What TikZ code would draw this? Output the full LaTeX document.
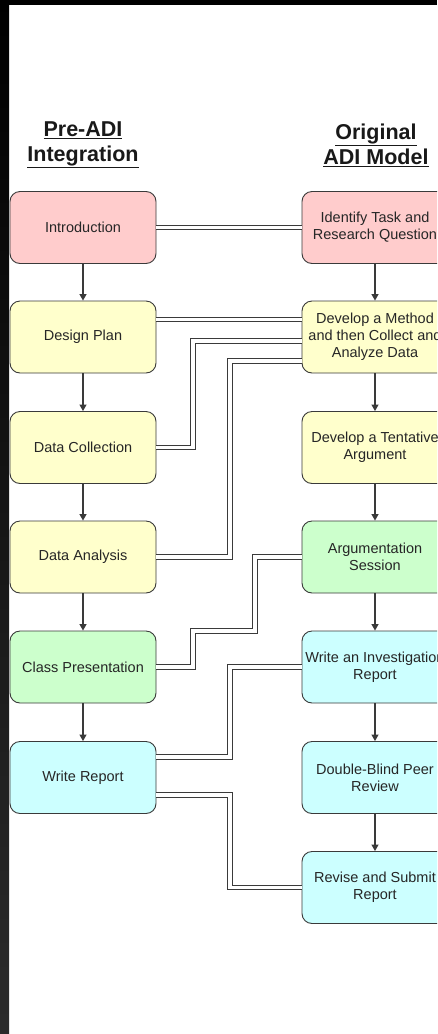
\documentclass[tikz,border=0pt]{standalone}
\usepackage{fontspec}
\setmainfont{Liberation Sans}
\usetikzlibrary{arrows.meta}
\definecolor{introred}{HTML}{FFCCCC}
\definecolor{planyellow}{HTML}{FFFFCC}
\definecolor{talkgreen}{HTML}{CCFFCC}
\definecolor{reportcyan}{HTML}{CCFFFF}
\definecolor{boxline}{HTML}{3A3A3A}

\begin{document}
\begin{tikzpicture}[x=1pt, y=-1pt, font=\fontsize{14.5}{17}\selectfont]
    \useasboundingbox (0,0) rectangle (437,1034);
    \clip (0,0) rectangle (437,1034);
    \fill[white] (0,0) rectangle (437,1034);
    \shade[top color=black, bottom color=black!83!white] (0,0) rectangle (9,1034);
    \fill[black] (0,0) rectangle (437,5);
    \tikzstyle{StageStyle}=[draw=boxline, line width=0.9pt, rounded corners=10pt,
        minimum width=146pt, minimum height=72pt, align=center, text=black!85]
    \tikzstyle{HeadStyle}=[font=\bfseries\fontsize{21.5}{25}\selectfont, align=center, text=black!90]
    \tikzstyle{EdgeStyle}=[draw=boxline, line width=1.1pt, -{Triangle[width=7pt,length=6.5pt]}]
    \tikzstyle{LinkStyle}=[draw=boxline, line width=1pt, double=white, double distance=3.6pt]
    % headings
    \node[HeadStyle] (prehead) at (83,145) {\underline{Pre-ADI}\\\underline{Integration}};
    \node[HeadStyle] (adihead) at (376,145) {\underline{Original}\\\underline{ADI Model}};
    % pre-ADI column
    \node[StageStyle, fill=introred]   (intro)   at (83,227.5) {Introduction};
    \node[StageStyle, fill=planyellow] (plan)    at (83,337)   {Design Plan};
    \node[StageStyle, fill=planyellow] (collect) at (83,447.5) {Data Collection};
    \node[StageStyle, fill=planyellow] (analyze) at (83,557)   {Data Analysis};
    \node[StageStyle, fill=talkgreen]  (present) at (83,667)   {Class Presentation};
    \node[StageStyle, fill=reportcyan] (write)   at (83,777.5) {Write Report};
    % original ADI column
    \node[StageStyle, fill=introred]   (task)    at (375,227.5) {Identify Task and\\Research Question};
    \node[StageStyle, fill=planyellow] (method)  at (375,337)   {Develop a Method\\and then Collect and\\Analyze Data};
    \node[StageStyle, fill=planyellow] (tentative) at (375,447.5) {Develop a Tentative\\Argument};
    \node[StageStyle, fill=talkgreen]  (argue)   at (375,557)   {Argumentation\\Session};
    \node[StageStyle, fill=reportcyan] (report)  at (375,667)   {Write an Investigation\\Report};
    \node[StageStyle, fill=reportcyan] (review)  at (375,777.5) {Double-Blind Peer\\Review};
    \node[StageStyle, fill=reportcyan] (revise)  at (375,887.5) {Revise and Submit\\Report};
    % sequence arrows
    \draw[EdgeStyle] (intro) -- (plan);
    \draw[EdgeStyle] (plan) -- (collect);
    \draw[EdgeStyle] (collect) -- (analyze);
    \draw[EdgeStyle] (analyze) -- (present);
    \draw[EdgeStyle] (present) -- (write);
    \draw[EdgeStyle] (task) -- (method);
    \draw[EdgeStyle] (method) -- (tentative);
    \draw[EdgeStyle] (tentative) -- (argue);
    \draw[EdgeStyle] (argue) -- (report);
    \draw[EdgeStyle] (report) -- (review);
    \draw[EdgeStyle] (review) -- (revise);
    % links between the two models
    \draw[LinkStyle] (intro.east) -- (task.west);
    \draw[LinkStyle] ([yshift=17.5pt]plan.east) -- ([yshift=17.5pt]method.west);
    \draw[LinkStyle] (collect.east) -- ++(36.5,0) |- ([yshift=-4pt]method.west);
    \draw[LinkStyle] (analyze.east) -- ++(73.5,0) |- ([yshift=-24pt]method.west);
    \draw[LinkStyle] (present.east) -- ++(36.5,0) -- ++(0,-36) -- ++(62,0) |- (argue.west);
    \draw[LinkStyle] ([yshift=20.5pt]write.east) -- ++(73.5,0) |- (report.west);
    \draw[LinkStyle] ([yshift=-17.5pt]write.east) -- ++(73.5,0) |- (revise.west);
\end{tikzpicture}
\end{document}
